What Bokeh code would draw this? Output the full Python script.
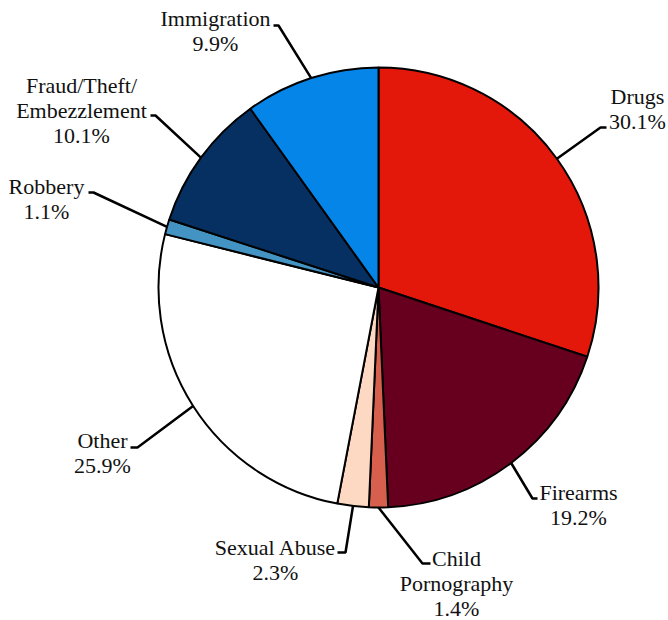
import math
import pandas as pd
from bokeh.plotting import figure
from bokeh.models import Range1d, ColumnDataSource, Label
from bokeh.embed import file_html
from bokeh.resources import INLINE

# ---- data ----
categories = ["Drugs", "Firearms", "Child\nPornography", "Sexual Abuse", "Other",
              "Robbery", "Fraud/Theft/\nEmbezzlement", "Immigration"]
percents = [30.1, 19.2, 1.4, 2.3, 25.9, 1.1, 10.1, 9.9]
colors = ["#E3170A", "#67001F", "#D6604D", "#FDD9C4", "#FFFFFF",
          "#4393C3", "#053061", "#0585E8"]

# ---- layout (image pixel coordinates) ----
W, H = 668, 620
CX, CY, R = 378, 287, 220
FONT = "Liberation Serif"
FS = "22px"
LINE_STEP = 25
# label block centre x, first-line y
label_pos = [(637, 96), (578, 492), (456, 558), (275, 547), (102, 440),
             (46, 186), (81, 85), (215, 18)]
# leader elbow and end points
elbows = [(600, 127), (532, 498), (422, 563), (345, 552), (137, 447),
          (93, 192), (155, 115), (278, 25)]
ends = [(606, 127), (537, 498), (430, 563), (337, 552), (130, 447),
        (88, 192), (150, 115), (273, 25)]


def fy(y):
    return H - y


df = pd.DataFrame({"cat": categories, "pct": percents, "color": colors})
total = df["pct"].sum()
frac = df["pct"] / total
cum = frac.cumsum()
prev = cum - frac
df["start"] = math.pi / 2 - prev * 2 * math.pi
df["end"] = math.pi / 2 - cum * 2 * math.pi
df["mid"] = (prev + frac / 2) * 2 * math.pi  # clockwise from top

p = figure(width=W, height=H, output_backend="svg", toolbar_location=None,
           x_range=Range1d(0, W), y_range=Range1d(0, H),
           min_border=0)
p.axis.visible = False
p.grid.visible = False
p.outline_line_color = None
p.background_fill_color = "white"
p.border_fill_color = "white"

src = ColumnDataSource(df)
p.wedge(x=CX, y=fy(CY), radius=R, start_angle="start", end_angle="end",
        direction="clock", fill_color="color", line_color="black",
        line_width=2, source=src)

# leader lines
xs, ys = [], []
for i, m in enumerate(df["mid"]):
    ex = CX + R * math.sin(m)
    ey = CY - R * math.cos(m)
    xs.append([ex, elbows[i][0], ends[i][0]])
    ys.append([fy(ey), fy(elbows[i][1]), fy(ends[i][1])])
p.multi_line(xs, ys, line_color="black", line_width=2.5)

# labels
for i, (c, v) in enumerate(zip(categories, percents)):
    lines = c.split("\n") + [f"{v:.1f}%"]
    x0, y0 = label_pos[i]
    for j, ln in enumerate(lines):
        p.add_layout(Label(x=x0, y=fy(y0 + j * LINE_STEP), text=ln,
                           text_font=FONT, text_font_size=FS,
                           text_align="center", text_baseline="middle",
                           text_color="#111111"))

open("out.html", "w").write(file_html(p, INLINE))
